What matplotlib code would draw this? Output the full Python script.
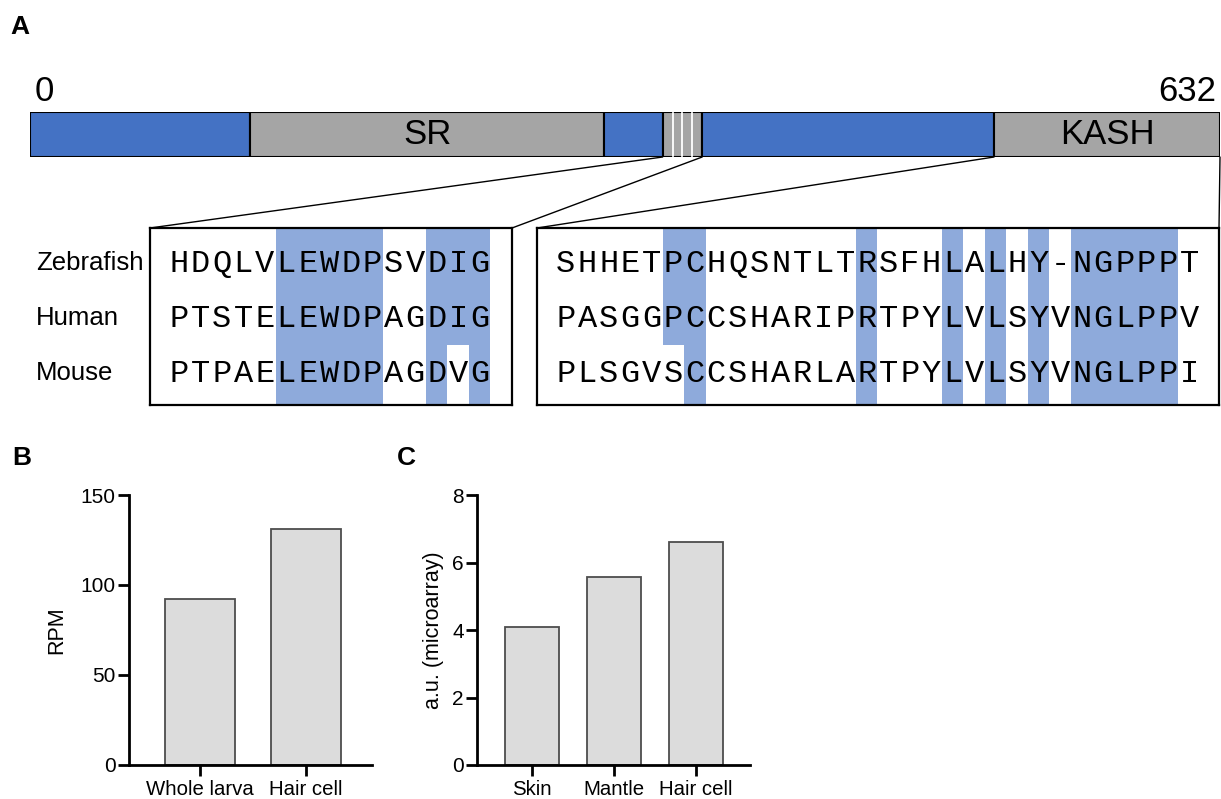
import matplotlib
matplotlib.use('Agg')
import matplotlib.pyplot as plt
from matplotlib.patches import Rectangle, ConnectionPatch
from matplotlib.transforms import blended_transform_factory

plt.rcParams['font.family'] = ['Liberation Sans', 'DejaVu Sans']

# ---------------- data ----------------
protein_length = 632
domain_bounds = [0, 117, 305, 336, 357, 512, 632]
domain_kinds = ['plain', 'domain', 'plain', 'striped', 'plain', 'domain']
domain_labels = ['', 'SR', '', '', '', 'KASH']

species = ['Zebrafish', 'Human', 'Mouse']
seq_left = ['HDQLVLEWDPSVDIG', 'PTSTELEWDPAGDIG', 'PTPAELEWDPAGDVG']
seq_right = ['SHHETPCHQSNTLTRSFHLALHY-NGPPPT',
             'PASGGPCCSHARIPRTPYLVLSYVNGLPPV',
             'PLSGVSCCSHARLARTPYLVLSYVNGLPPI']
# shaded columns: (first column, end column (exclusive), rows shaded from the top)
shade_left = [(5, 10, 3), (12, 13, 3), (13, 14, 2), (14, 15, 3)]
shade_right = [(5, 6, 2), (6, 7, 3), (14, 15, 3), (18, 19, 3), (20, 21, 3),
               (22, 23, 3), (24, 29, 3)]
zoom_left = (336, 357)
zoom_right = (512, 632)

rpm_categories = ['Whole larva', 'Hair cell']
rpm_values = [92, 131]
rpm_ticks = [0, 50, 100, 150]

array_categories = ['Skin', 'Mantle', 'Hair cell']
array_values = [4.1, 5.57, 6.61]
array_ticks = [0, 2, 4, 6, 8]

# ---------------- style ----------------
W, H = 1221, 799
BLUE = '#4472c4'
GREY = '#a5a5a5'
SHADE = '#8eaadb'
BAR_FACE = '#dcdcdc'
BAR_EDGE = '#4d4d4d'

fig = plt.figure(figsize=(W / 100, H / 100), dpi=100)


def px_axes(x0, y0, x1, y1):
    return fig.add_axes([x0 / W, 1 - y1 / H, (x1 - x0) / W, (y1 - y0) / H])


# ---------------- panel A: domain bar ----------------
axD = px_axes(30, 112, 1220, 157)
for i, kind in enumerate(domain_kinds):
    s, e = domain_bounds[i], domain_bounds[i + 1]
    col = BLUE if kind == 'plain' else GREY
    axD.barh(0.5, e - s, left=s, height=1, color=col, edgecolor='black',
             linewidth=1.5, zorder=1)
    if kind == 'striped':
        for k in range(1, 4):
            xs = s + k * (e - s) / 4
            axD.plot([xs, xs], [0.03, 0.97], color='white', lw=1.3, zorder=2)
    if domain_labels[i]:
        axD.text((s + e) / 2, 0.5, domain_labels[i], ha='center', va='center',
                 fontsize=25, zorder=3)
axD.set_xlim(0, protein_length)
axD.set_ylim(0, 1)
axD.axis('off')
axD.annotate(str(domain_bounds[0]), xy=(domain_bounds[0], 1), xytext=(3, 8),
             textcoords='offset points', ha='left', va='baseline', fontsize=25)
axD.annotate(str(protein_length), xy=(protein_length, 1), xytext=(-3, 8),
             textcoords='offset points', ha='right', va='baseline', fontsize=25)

# ---------------- panel A: alignments ----------------
pitch = 21.5
row_px = 55.0
y_top = -34 / row_px
y_bot = 2 + 33 / row_px


def alignment_axes(x0, x1, text_x0, seqs, shades):
    ax = px_axes(x0, 228, x1, 405)
    ax.set_xlim((x0 - text_x0) / pitch, (x1 - text_x0) / pitch)
    ax.set_ylim(y_bot, y_top)
    for c0, c1, nrows in shades:
        yb = y_bot if nrows == 3 else nrows - 0.5
        ax.add_patch(Rectangle((c0, y_top), c1 - c0, yb - y_top, facecolor=SHADE,
                               edgecolor='none', zorder=1))
    for r, seq in enumerate(seqs):
        for i, ch in enumerate(seq):
            ax.text(i + 0.5, r + 0.19, ch, ha='center', va='baseline',
                    fontsize=23, family='Liberation Mono', zorder=3)
    ax.set_xticks([])
    ax.set_yticks([])
    for sp in ax.spines.values():
        sp.set_linewidth(1.6)
        sp.set_zorder(4)
    return ax


axL = alignment_axes(150, 512, 168, seq_left, shade_left)
axR = alignment_axes(537, 1219, 555, seq_right, shade_right)

tr = blended_transform_factory(fig.transFigure, axL.transData)
for r, name in enumerate(species):
    fig.text(36 / W, r + 0.15, name, transform=tr, ha='left', va='baseline',
             fontsize=18.5)

for xa, ax_b, corner in [(zoom_left[0], axL, (0, 1)), (zoom_left[1], axL, (1, 1)),
                         (zoom_right[0], axR, (0, 1)), (zoom_right[1], axR, (1, 1))]:
    con = ConnectionPatch(xyA=(xa, 0), coordsA=axD.transData, xyB=corner,
                          coordsB=ax_b.transAxes, lw=1, color='black')
    fig.add_artist(con)


# ---------------- panels B and C ----------------
def bar_panel(ax, cats, vals, ticks, ylabel, xlim, label_x):
    x = range(len(cats))
    ax.bar(x, vals, width=0.66, color=BAR_FACE, edgecolor=BAR_EDGE, linewidth=1.3)
    ax.set_xlim(*xlim)
    ax.set_ylim(ticks[0], ticks[-1])
    ax.set_yticks(ticks)
    ax.set_xticks(list(x))
    ax.set_xticklabels(cats)
    for s in ['top', 'right']:
        ax.spines[s].set_visible(False)
    for s in ['left', 'bottom']:
        ax.spines[s].set_linewidth(2)
    ax.tick_params(axis='both', length=8, width=2)
    ax.tick_params(axis='y', pad=1.5, labelsize=15)
    ax.tick_params(axis='x', pad=3, labelsize=14.7)
    ax.set_ylabel(ylabel, fontsize=15.5, va='center')
    ax.yaxis.set_label_coords(label_x, 0.5)


axB = px_axes(129, 495, 372, 765)
bar_panel(axB, rpm_categories, rpm_values, rpm_ticks, 'RPM', (-0.67, 1.62), -0.296)

axC = px_axes(477, 495, 750, 765)
bar_panel(axC, array_categories, array_values, array_ticks, 'a.u. (microarray)',
          (-0.67, 2.66), -0.161)

# ---------------- panel letters ----------------
for lab, (px, py) in zip(['A', 'B', 'C'], [(20, 27), (22, 458), (406, 458)]):
    fig.text(px / W, 1 - py / H, lab, ha='center', va='center', fontsize=19,
             fontweight='bold')

fig.savefig('out.png', dpi=100)
